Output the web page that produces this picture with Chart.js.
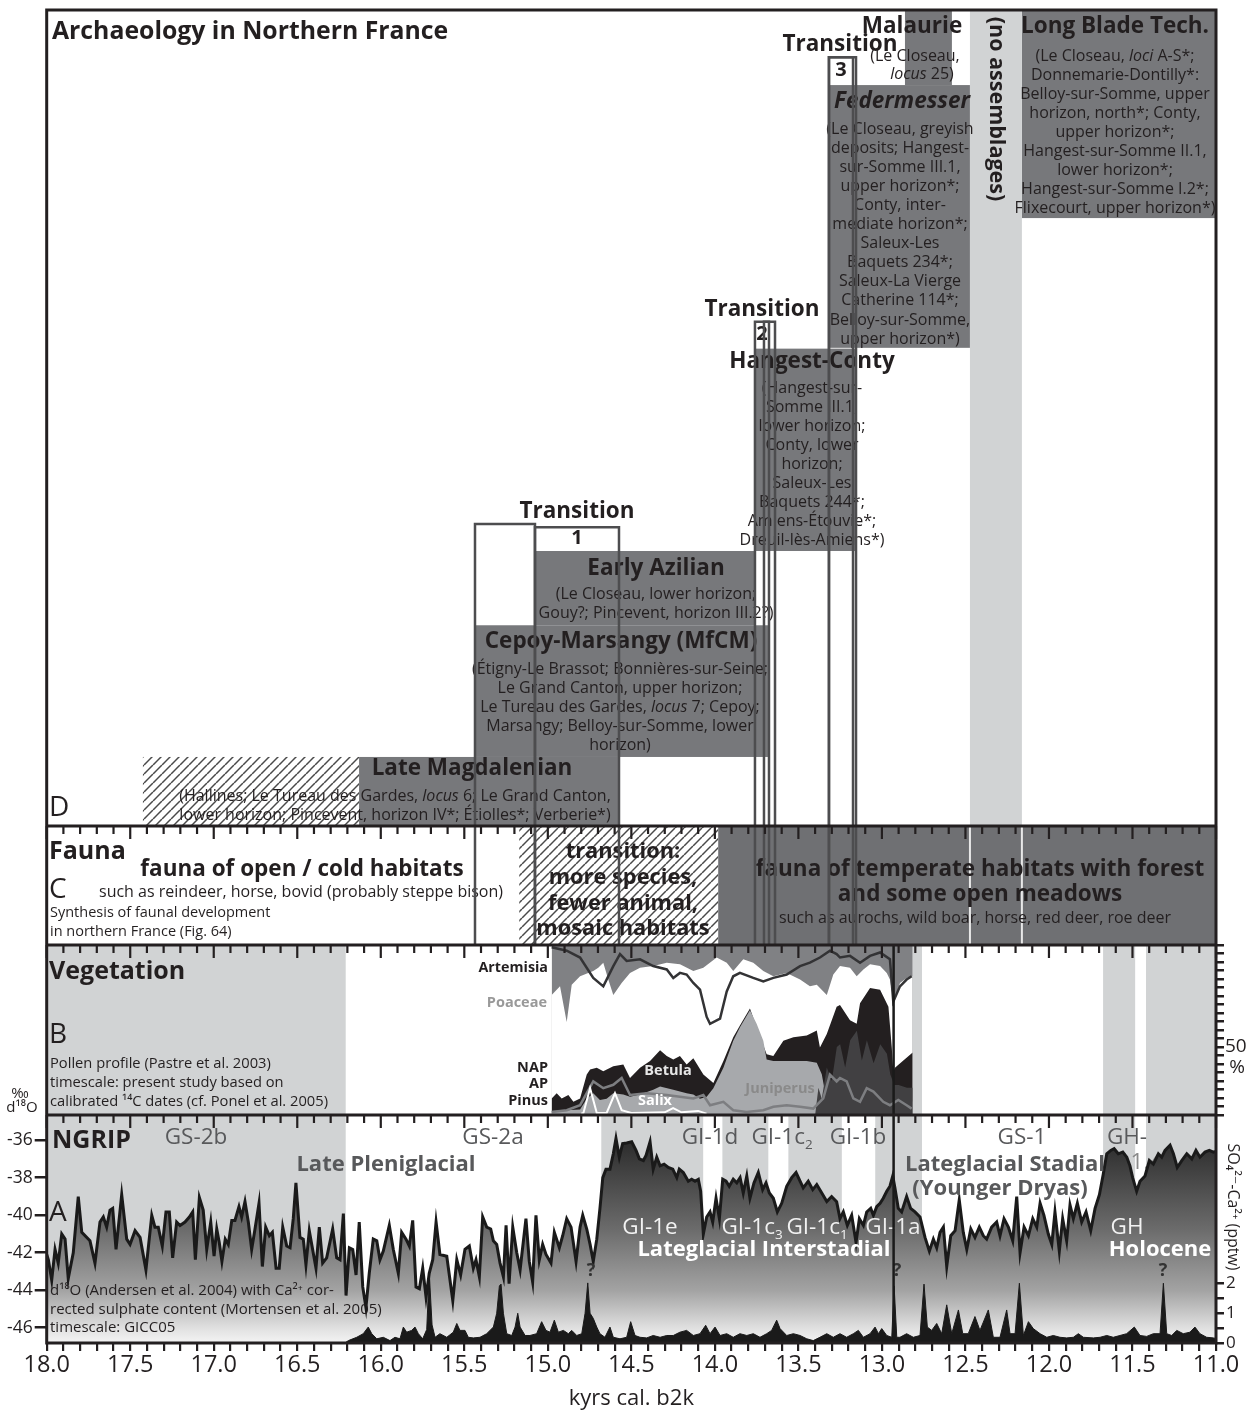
<!DOCTYPE html>
<html><head><meta charset="utf-8">
<script src="https://cdn.jsdelivr.net/npm/chart.js@4.4.1/dist/chart.umd.min.js"></script>
<style>html,body{margin:0;padding:0;background:#fff}canvas{display:block}</style>
</head><body>
<canvas id="c" width="1253" height="1412"></canvas>
<script>
// ---------------- DATA ----------------
const majorTickValues = [18,17.5,17,16.5,16,15.5,15,14.5,14,13.5,13,12.5,12,11.5,11];
const d18OTicks = [-36,-38,-40,-42,-44,-46];
const so4Ticks = [0,0.5,1,1.5,2];
const so4Labels = [0,1,2];
const pollenTickStep = 6.25;
const pollenLabel = 50;

// NGRIP d18O (permil) vs kyr b2k
const ngripD18O = [[18.000,-42.1],[17.990,-42.38],[17.970,-43.47],[17.950,-41.83],[17.931,-42.56],[17.910,-41.01],[17.890,-41.28],[17.871,-43.38],[17.841,-42.01],[17.811,-39.01],[17.790,-40.92],[17.741,-41.37],[17.711,-42.56],[17.681,-40.37],[17.661,-40.10],[17.641,-40.64],[17.621,-39.73],[17.605,-39.64],[17.585,-41.83],[17.551,-38.91],[17.521,-41.28],[17.501,-41.56],[17.471,-40.83],[17.441,-41.19],[17.406,-42.92],[17.371,-40.01],[17.352,-40.64],[17.332,-40.64],[17.308,-41.65],[17.286,-39.83],[17.266,-39.83],[17.246,-42.28],[17.222,-40.37],[17.202,-40.55],[17.172,-40.37],[17.146,-40.10],[17.126,-39.83],[17.110,-42.38],[17.086,-39.06],[17.063,-39.73],[17.042,-41.83],[17.018,-40.37],[16.998,-42.19],[16.982,-40.74],[16.967,-41.46],[16.951,-42.47],[16.931,-41.28],[16.913,-41.56],[16.892,-40.28],[16.873,-40.28],[16.849,-39.55],[16.833,-40.10],[16.813,-39.28],[16.793,-40.37],[16.773,-41.83],[16.753,-40.74],[16.729,-39.37],[16.709,-42.74],[16.689,-40.64],[16.667,-41.10],[16.649,-40.92],[16.627,-42.83],[16.608,-42.83],[16.587,-40.64],[16.563,-41.65],[16.543,-41.74],[16.524,-40.19],[16.508,-38.28],[16.484,-41.19],[16.464,-41.28],[16.448,-42.65],[16.428,-40.83],[16.408,-41.83],[16.388,-42.83],[16.368,-40.64],[16.348,-42.56],[16.324,-42.28],[16.288,-40.74],[16.264,-42.28],[16.244,-42.38],[16.224,-39.92],[16.208,-44.29],[16.188,-41.74],[16.168,-41.83],[16.148,-43.19],[16.129,-40.37],[16.108,-43.83],[16.089,-44.93],[16.069,-43.10],[16.045,-41.28],[16.024,-41.37],[16.005,-42.38],[15.985,-41.92],[15.949,-40.55],[15.925,-41.83],[15.895,-43.10],[15.875,-40.92],[15.849,-41.28],[15.829,-41.65],[15.809,-40.28],[15.789,-43.83],[15.769,-43.92],[15.749,-42.83],[15.729,-44.38],[15.710,-43.10],[15.689,-42.38],[15.669,-40.37],
[15.646,-42.10],[15.605,-42.19],[15.569,-44.56],[15.545,-42.38],[15.522,-43.19],[15.496,-41.83],[15.470,-41.65],[15.446,-42.83],[15.430,-42.38],[15.410,-43.29],[15.390,-40.10],[15.366,-40.64],[15.342,-40.74],[15.326,-41.37],[15.306,-41.56],[15.286,-42.56],[15.266,-43.29],[15.250,-40.55],[15.232,-43.65],[15.210,-40.64],[15.186,-42.01],[15.166,-42.92],[15.131,-40.19],[15.111,-42.47],[15.091,-43.56],[15.071,-40.01],[15.051,-42.38],[15.031,-41.56],[15.011,-42.10],[14.981,-42.56],[14.961,-40.92],[14.931,-41.74],[14.911,-41.10],[14.887,-40.19],[14.861,-40.64],[14.831,-42.47],[14.807,-40.64],[14.791,-40.01],[14.767,-40.74],[14.747,-41.56],[14.728,-42.47],[14.707,-41.28],[14.688,-39.64],[14.671,-38.00],[14.652,-37.55],[14.628,-37.55],[14.608,-36.73],[14.592,-35.91],[14.572,-36.91],[14.552,-36.18],[14.528,-36.15],[14.498,-36.09],[14.472,-36.55],[14.452,-37.00],[14.428,-37.09],[14.412,-36.82],[14.388,-36.09],[14.369,-37.55],[14.348,-36.91],[14.328,-37.37],[14.304,-37.28],[14.279,-37.46],[14.252,-37.55],[14.228,-38.00],[14.213,-37.55],[14.189,-37.73],[14.159,-38.19],[14.139,-38.09],[14.119,-38.19],[14.099,-38.09],[14.085,-38.73],[14.069,-41.01],[14.049,-40.10],[14.029,-39.83],[14.013,-40.37],[13.993,-39.10],[13.973,-40.19],[13.953,-38.09],[13.933,-38.19],[13.914,-38.46],[13.890,-38.09],[13.869,-38.28],[13.849,-38.00],[13.830,-38.82],[13.809,-37.91],[13.790,-39.10],[13.766,-38.28],[13.740,-37.73],[13.714,-38.64],[13.694,-38.28],[13.674,-38.82],[13.650,-39.10],[13.626,-39.83],[13.600,-39.37],[13.570,-38.46],[13.540,-38.00],[13.514,-37.73],[13.490,-38.19],[13.471,-38.55],[13.441,-38.19],[13.414,-38.64],[13.390,-38.37],[13.360,-38.82],[13.330,-39.28],[13.301,-39.01],[13.271,-39.28],
[13.251,-40.19],[13.231,-39.83],[13.207,-40.55],[13.181,-40.01],[13.155,-41.46],[13.135,-40.19],[13.111,-40.55],[13.091,-39.83],[13.067,-39.64],[13.051,-40.01],[13.031,-39.55],[13.011,-39.37],[12.992,-39.10],[12.971,-38.73],[12.952,-38.46],[12.935,-37.91],[12.922,-38.55],[12.902,-39.64],[12.882,-39.83],[12.852,-39.01],[12.828,-39.64],[12.802,-39.83],[12.772,-40.10],[12.742,-41.19],[12.716,-41.92],[12.692,-41.28],[12.672,-41.74],[12.652,-40.92],[12.632,-40.64],[12.612,-42.74],[12.588,-41.10],[12.562,-40.83],[12.537,-39.19],[12.513,-40.92],[12.492,-41.83],[12.468,-40.74],[12.443,-41.19],[12.417,-40.64],[12.393,-41.10],[12.373,-41.28],[12.343,-40.64],[12.313,-40.37],[12.293,-41.10],[12.269,-40.19],[12.243,-40.64],[12.217,-41.37],[12.193,-39.01],[12.173,-42.01],[12.149,-40.64],[12.123,-41.10],[12.097,-40.19],[12.073,-40.64],[12.053,-39.37],[12.030,-40.01],[12.004,-41.01],[11.983,-41.56],[11.964,-39.83],[11.938,-41.92],[11.918,-40.19],[11.894,-41.37],[11.874,-39.46],[11.854,-40.19],[11.830,-39.37],[11.804,-40.37],[11.778,-39.83],[11.750,-40.83],[11.724,-39.64],[11.698,-38.91],[11.675,-37.82],[11.654,-36.73],[11.630,-36.55],[11.610,-36.46],[11.585,-36.73],[11.558,-36.64],[11.534,-36.91],[11.515,-37.37],[11.499,-38.00],[11.475,-38.73],[11.455,-38.19],[11.425,-37.91],[11.399,-37.09],[11.375,-37.28],[11.345,-36.73],[11.325,-36.91],[11.305,-36.55],[11.275,-36.27],[11.255,-36.73],[11.232,-37.46],[11.205,-37.09],[11.175,-36.73],[11.145,-37.00],[11.120,-36.55],[11.096,-36.91],[11.066,-36.64],[11.040,-36.55],[11.016,-36.64],[11.000,-36.6]];

// Ca-corrected sulphate (ppbw)
const ngripSO4 = [[16.215,0],[16.194,0.08],[16.144,0.19],[16.105,0.31],[16.075,0.53],[16.054,0.31],[16.024,0.14],[15.985,0.19],[15.945,0.08],[15.915,0.19],[15.885,0.14],[15.865,0.53],[15.845,0.36],[15.815,0.42],[15.795,0.53],[15.775,0.31],[15.749,0.14],[15.725,0.45],[15.710,2.35],[15.693,0.6],[15.675,0.19],[15.646,0.31],[15.605,0.19],[15.566,0.36],[15.545,0.65],[15.526,0.42],[15.496,0.42],[15.476,0.19],[15.446,0.17],[15.406,0.19],[15.366,0.31],[15.326,0.53],[15.306,0.99],[15.290,1.90],[15.280,1.96],[15.266,0.99],[15.246,0.31],[15.216,0.25],[15.196,0.53],[15.180,0.99],[15.166,0.53],[15.136,0.25],[15.107,0.25],[15.067,0.31],[15.037,0.71],[15.011,0.42],[14.987,0.36],[14.961,0.76],[14.937,0.36],[14.907,0.42],[14.877,0.31],[14.857,0.42],[14.827,0.25],[14.797,0.31],[14.777,0.99],[14.761,2.0],[14.747,0.99],[14.728,0.82],[14.707,0.53],[14.688,0.31],[14.658,0.19],[14.628,0.53],[14.608,0.19],[14.568,0.14],[14.528,0.19],[14.504,0.71],[14.478,0.25],[14.448,0.19],[14.408,0.17],[14.369,0.25],[14.328,0.19],[14.288,0.25],[14.249,0.25],[14.209,0.36],[14.169,0.42],[14.129,0.25],[14.089,0.31],[14.055,0.59],[14.029,0.31],[13.999,0.53],[13.969,0.25],[13.929,0.31],[13.890,0.19],[13.850,0.31],[13.809,0.25],[13.770,0.31],[13.730,0.19],[13.690,0.31],[13.660,0.42],[13.630,0.76],[13.610,0.48],[13.570,0.25],[13.530,0.31],[13.490,0.25],[13.450,0.14],[13.411,0.08],[13.371,0.19],[13.330,0.31],[13.291,0.19],[13.251,0.31],[13.211,0.19],[13.171,0.31],[13.141,0.42],[13.111,0.19],[13.071,0.31],[13.041,0.53],[13.021,0.31],[13.001,0.48],[12.971,0.25],[12.941,0.19],[12.927,1.90],[12.911,0.19],[12.892,0.19],[12.852,0.31],[12.812,0.19],[12.772,0.25],[12.748,1.96],[12.728,0.53],[12.702,0.42],[12.672,0.65],[12.642,0.31],[12.612,1.27],[12.582,0.31],[12.542,1.10],[12.516,0.31],[12.483,0.31],[12.443,0.88],[12.413,0.42],[12.363,1.10],[12.333,0.19],[12.293,0.19],[12.253,1.10],[12.233,0.31],[12.203,0.31],[12.177,1.99],[12.153,0.25],[12.123,0.71],[12.094,0.48],[12.053,0.31],[12.013,0.19],[11.974,0.25],[11.934,0.19],[11.894,0.17],[11.854,0.19],[11.824,0.31],[11.794,0.19],[11.734,0.17],[11.694,0.19],[11.654,0.25],[11.615,0.19],[11.575,0.25],[11.535,0.31],[11.489,0.53],[11.455,0.25],[11.415,0.22],[11.375,0.31],[11.335,0.31],[11.315,1.99],[11.295,0.31],[11.265,0.25],[11.235,0.42],[11.196,0.31],[11.156,0.36],[11.126,0.53],[11.096,0.31],[11.056,0.19],[11.016,0.17],[11.0,0.15]];

// Pollen profile, cumulative boundaries (% scale of diagram)
const pollenTop = [[14.977,125],[12.816,125]];
const artemisiaBase = [[14.977,88.3],[14.927,94.6],[14.887,68.4],[14.857,95.8],[14.807,102.0],[14.758,104.5],[14.728,105.8],[14.698,108.3],[14.668,112.0],[14.638,99.6],[14.608,88.3],[14.558,97.1],[14.508,104.5],[14.448,108.3],[14.369,109.5],[14.288,112.0],[14.209,110.8],[14.129,105.8],[14.069,108.3],[13.989,115.8],[13.929,112.0],[13.890,105.8],[13.830,114.5],[13.770,112.0],[13.710,105.8],[13.650,102.0],[13.570,104.5],[13.490,99.6],[13.431,94.6],[13.390,95.8],[13.330,88.3],[13.291,103.3],[13.251,109.5],[13.191,108.3],[13.151,102.0],[13.111,107.0],[13.071,110.8],[13.011,109.5],[12.971,104.5],[12.952,99.6],[12.935,87.1],[12.922,84.6],[12.892,97.1],[12.852,100.8],[12.816,102.0]];
const betulaTop = [[14.977,12.2],[14.947,16.0],[14.917,12.2],[14.877,14.7],[14.847,9.7],[14.807,12.2],[14.767,29.7],[14.747,33.4],[14.707,34.7],[14.668,32.2],[14.608,35.9],[14.548,37.2],[14.508,27.2],[14.448,34.7],[14.388,39.7],[14.328,47.7],[14.288,43.4],[14.249,40.9],[14.209,43.4],[14.169,37.2],[14.129,41.7],[14.069,29.7],[14.009,23.5],[13.949,39.7],[13.890,57.1],[13.850,65.9],[13.790,78.3],[13.750,64.6],[13.690,44.7],[13.650,43.4],[13.590,54.6],[13.530,57.1],[13.450,58.4],[13.390,62.1],[13.371,49.7],[13.330,59.6],[13.271,79.6],[13.251,80.8],[13.191,69.6],[13.151,67.1],[13.131,82.1],[13.071,93.3],[13.011,92.1],[12.961,79.6],[12.941,49.7],[12.932,32.2],[12.922,34.7],[12.816,45.9]];
const juniperusTop = [[14.977,3],[14.807,4],[14.767,12],[14.728,16],[14.688,11],[14.648,12],[14.608,16],[14.548,15],[14.508,13.5],[14.448,15],[14.369,18.5],[14.328,21],[14.249,18.5],[14.169,16],[14.129,15],[14.089,12],[14.049,13.5],[14.009,19.7],[13.949,34.7],[13.890,54.6],[13.850,64.6],[13.790,77.1],[13.750,67.1],[13.710,54.6],[13.690,40.9],[13.650,39.7],[13.530,39.7],[13.450,39.7],[13.390,38.4],[13.36,30],[13.33,10],[12.816,10]];
const pinusTop = [[13.40,0],[13.38,20],[13.36,12],[13.33,35],[13.30,25],[13.27,50],[13.25,52],[13.22,35],[13.19,55],[13.15,62],[13.12,40],[13.09,55],[13.05,38],[13.01,52],[12.97,45],[12.95,30],[12.935,25],[12.93,22],[12.90,22],[12.85,20],[12.816,20]];
const napCurve = [[14.977,123.3],[14.887,120.8],[14.807,115.8],[14.728,100.8],[14.668,94.6],[14.608,109.5],[14.568,118.3],[14.528,113.3],[14.448,114.5],[14.369,109.5],[14.288,107.0],[14.249,100.8],[14.209,104.5],[14.169,103.3],[14.129,97.1],[14.089,92.1],[14.049,72.1],[14.029,67.1],[13.969,70.9],[13.929,90.8],[13.890,102.0],[13.850,104.5],[13.770,100.8],[13.710,98.3],[13.650,100.8],[13.570,103.3],[13.490,109.5],[13.431,112.0],[13.371,115.8],[13.311,120.8],[13.271,118.3],[13.251,115.8],[13.191,117.0],[13.131,112.0],[13.071,117.0],[13.011,119.5],[12.952,114.5],[12.932,83.3],[12.892,94.6],[12.852,99.6],[12.822,102.0]];
const apCurve = [[14.977,2.2],[14.887,3.5],[14.807,7.2],[14.728,24.7],[14.668,19.7],[14.608,22.2],[14.558,27.2],[14.508,14.7],[14.408,16.0],[14.288,14.7],[14.209,13.5],[14.129,12.2],[14.069,14.7],[14.029,7.2],[13.949,9.7],[13.890,3.5],[13.810,2.2],[13.710,3.5],[13.650,6.0],[13.570,7.2],[13.490,6.0],[13.411,4.7],[13.351,12.2],[13.311,29.7],[13.271,24.7],[13.251,27.2],[13.211,24.7],[13.171,12.2],[13.131,9.7],[13.091,19.7],[13.051,17.2],[12.992,9.7],[12.952,7.2],[12.902,11.0],[12.852,7.2],[12.822,4.7]];
const salixCurve = [[14.80,1],[14.787,1.5],[14.747,19.7],[14.707,1.5],[14.648,1.5],[14.598,16],[14.558,3.5],[14.50,1.5],[14.30,2],[14.25,5],[14.20,2],[14.10,3],[14.05,1]];

// climate event shading (kyr b2k)
const bandsNGRIP = [[18.0,16.21],[14.68,14.07],[13.955,13.68],[13.56,13.24],[13.04,12.76],[11.676,11.484],[11.419,11.0]];
const bandsVeg = [[18.0,16.21],[13.04,12.76],[11.676,11.484],[11.419,11.0]];
const gs1Onset = 12.93;
const noAssemblages = [12.473, 12.162];

// archaeology units: [from, to, topLevel, bottomLevel] (level = % of panel height)
const archUnits = {
  lateMagdalenian: [16.130, 14.580, 8.46, 0],
  cepoyMarsangy:   [15.436, 13.682, 24.6, 8.46],
  earlyAzilian:    [15.077, 13.760, 33.7, 24.6],
  hangestConty:    [13.760, 13.161, 58.5, 33.7],
  federmesser:     [13.317, 12.473, 90.8, 58.6],
  malaurie:        [12.862, 12.581, 100, 90.8],
  longBlade:       [12.162, 11.0, 100, 74.5]
};
const magdalenianHatch = [17.424, 16.130, 8.46, 0];
const transitions = [[15.436,15.077,37.0],[15.077,14.574,36.6],[13.760,13.676,61.8],[13.706,13.640,61.8],[13.317,13.155,94.2],[13.317,13.173,94.2]];
const faunaTransition = [15.171, 13.980];
const faunaTemperate = [13.980, 11.0];

// ---------------- STYLE ----------------
const F = '"Open Sans", "DejaVu Sans", sans-serif';
const INK = '#231f20', LIGHT = '#d1d3d4', BOX = '#77787b', LINEC = '#4d4d4f';
function fnt(size, bold, italic){ return (italic?'italic ':'') + (bold?'bold ':'') + size + 'px ' + F; }
function T(ctx, s, x, y, size, o = {}) {
  ctx.save(); ctx.font = fnt(size, o.bold, o.italic); ctx.fillStyle = o.color || INK;
  ctx.textAlign = o.align || 'center'; ctx.textBaseline = 'middle'; ctx.fillText(s, x, y); ctx.restore();
}
function R(ctx, segs, cx, y, size, color) {
  ctx.save(); ctx.textBaseline = 'middle'; ctx.textAlign = 'left'; ctx.fillStyle = color || INK;
  const ws = segs.map(([s, it]) => { ctx.font = fnt(size, false, it); return ctx.measureText(s).width; });
  let x = cx - ws.reduce((a, b) => a + b, 0) / 2;
  segs.forEach(([s, it], i) => { ctx.font = fnt(size, false, it); ctx.fillText(s, x, y); x += ws[i]; });
  ctx.restore();
}
function sub(ctx, base, s, x, y, size, color, bold) { // text with subscript, centered
  ctx.save(); ctx.textBaseline = 'middle'; ctx.textAlign = 'left'; ctx.fillStyle = color;
  ctx.font = fnt(size, bold); const w1 = ctx.measureText(base).width;
  ctx.font = fnt(size * 0.6, bold); const w2 = ctx.measureText(s).width;
  const x0 = x - (w1 + w2) / 2;
  ctx.font = fnt(size, bold); ctx.fillText(base, x0, y);
  ctx.font = fnt(size * 0.6, bold); ctx.fillText(s, x0 + w1, y + size * 0.3);
  ctx.restore();
}
let hatchPat = null;
function hatch(ctx) {
  if (hatchPat) return hatchPat;
  const c = document.createElement('canvas'); c.width = 9; c.height = 9;
  const g = c.getContext('2d'); g.fillStyle = '#fff'; g.fillRect(0, 0, 9, 9);
  g.strokeStyle = '#4a4a4a'; g.lineWidth = 1.5;
  [[-9, 9], [0, 9], [9, 9]].forEach(([ox]) => { g.beginPath(); g.moveTo(ox, 9); g.lineTo(ox + 9, 0); g.stroke(); });
  hatchPat = ctx.createPattern(c, 'repeat'); return hatchPat;
}
const isMajor = v => majorTickValues.some(m => Math.abs(m - v) < 1e-6);

// ---------------- PLUGINS ----------------
const backPlugin = {
  id: 'back',
  beforeDatasetsDraw(chart) {
    const { ctx, scales: { x, yA, yB, yC, yD } } = chart;
    const X = v => x.getPixelForValue(v);
    const rect = (a, b, top, bot, fill) => { ctx.fillStyle = fill; ctx.fillRect(X(a), top, X(b) - X(a), bot - top); };
    ctx.save();
    bandsNGRIP.forEach(([a, b]) => rect(a, b, yA.top, yA.bottom, LIGHT));
    bandsVeg.forEach(([a, b]) => rect(a, b, yB.top, yB.bottom, LIGHT));
    const Y = v => yD.getPixelForValue(v);
    rect(magdalenianHatch[0], magdalenianHatch[1], Y(magdalenianHatch[2]), Y(magdalenianHatch[3]), hatch(ctx));
    Object.values(archUnits).forEach(([a, b, t, bt]) => rect(a, b, Y(t), Y(bt), BOX));
    rect(noAssemblages[0], noAssemblages[1], yD.top, yD.bottom, LIGHT);
    rect(faunaTransition[0], faunaTransition[1], yC.top, yC.bottom, hatch(ctx));
    rect(faunaTemperate[0], faunaTemperate[1], yC.top, yC.bottom, '#6f7073');
    ctx.strokeStyle = '#e8e8e8'; ctx.lineWidth = 2;
    noAssemblages.forEach(v => { ctx.beginPath(); ctx.moveTo(X(v), yC.top); ctx.lineTo(X(v), yC.bottom); ctx.stroke(); });
    T(ctx, '11.4', 1140, 1163, 22.5, { color: '#8a8a8a' });
    ctx.restore();
  }
};

const frontPlugin = {
  id: 'front',
  afterDatasetsDraw(chart) {
    const { ctx, scales: { x, yA, yB, yC, yD } } = chart;
    const X = v => x.getPixelForValue(v);
    const Y = v => yD.getPixelForValue(v);
    ctx.save();
    const s = 16, B = 22.5, L = 19.1;
    // ---- D texts
    T(ctx, 'Archaeology in Northern France', 52, 32, 24.8, { bold: true, align: 'left' });
    T(ctx, 'D', 49, 808, 28, { align: 'left' });
    T(ctx, 'Transition', 577, 512, B, { bold: true }); T(ctx, '1', 577, 538, 20, { bold: true });
    T(ctx, 'Early Azilian', 656, 569, B, { bold: true });
    T(ctx, '(Le Closeau, lower horizon;', 656, 594, s);
    T(ctx, 'Gouy?; Pincevent, horizon III.2?)', 656, 613, s);
    T(ctx, 'Cepoy-Marsangy (MfCM)', 621, 642, B, { bold: true });
    T(ctx, '(Étigny-Le Brassot; Bonnières-sur-Seine;', 620, 669, s);
    T(ctx, 'Le Grand Canton, upper horizon;', 620, 688, s);
    R(ctx, [['Le Tureau des Gardes, ', false], ['locus', true], [' 7; Cepoy;', false]], 620, 707, s);
    T(ctx, 'Marsangy; Belloy-sur-Somme, lower', 620, 726, s);
    T(ctx, 'horizon)', 620, 745, s);
    T(ctx, 'Late Magdalenian', 472, 769, B, { bold: true });
    R(ctx, [['(Hallines; Le Tureau des Gardes, ', false], ['locus', true], [' 6; Le Grand Canton,', false]], 395, 796, s);
    T(ctx, 'lower horizon; Pincevent, horizon IV*; Étiolles*; Verberie*)', 395, 815, s);
    T(ctx, 'Transition', 762, 310, B, { bold: true }); T(ctx, '2', 762, 334, 20, { bold: true });
    T(ctx, 'Hangest-Conty', 812, 362, B, { bold: true });
    ['(Hangest-sur-', 'Somme III.1,', 'lower horizon;', 'Conty, lower', 'horizon;', 'Saleux-Les', 'Baquets 244*;', 'Amiens-Étouvie*;', 'Dreuil-lès-Amiens*)']
      .forEach((t, i) => T(ctx, t, 812, 388 + i * L, s));
    T(ctx, 'Transition', 840, 45, B, { bold: true }); T(ctx, '3', 841, 70, 20, { bold: true });
    T(ctx, 'Malaurie', 912, 27, B, { bold: true });
    T(ctx, '(Le Closeau,', 915, 56, s);
    R(ctx, [['locus', true], [' 25)', false]], 922, 74, s);
    T(ctx, 'Federmesser', 902, 102, B, { bold: true, italic: true });
    ['(Le Closeau, greyish', 'deposits; Hangest-', 'sur-Somme III.1,', 'upper horizon*;', 'Conty, inter-', 'mediate horizon*;', 'Saleux-Les', 'Baquets 234*;', 'Saleux-La Vierge', 'Catherine 114*;', 'Belloy-sur-Somme,', 'upper horizon*)']
      .forEach((t, i) => T(ctx, t, 900, 129 + i * L, s));
    ctx.save(); ctx.translate(996, 109); ctx.rotate(Math.PI / 2); T(ctx, '(no assemblages)', 0, 0, 21.5, { bold: true }); ctx.restore();
    T(ctx, 'Long Blade Tech.', 1115, 27, B, { bold: true });
    R(ctx, [['(Le Closeau, ', false], ['loci', true], [' A-S*;', false]], 1115, 56, s);
    ['Donnemarie-Dontilly*:', 'Belloy-sur-Somme, upper', 'horizon, north*; Conty,', 'upper horizon*;', 'Hangest-sur-Somme II.1,', 'lower horizon*;', 'Hangest-sur-Somme I.2*;', 'Flixecourt, upper horizon*)']
      .forEach((t, i) => T(ctx, t, 1115, 75 + i * L, s));
    // ---- C texts
    T(ctx, 'Fauna', 49, 852, 25, { bold: true, align: 'left' });
    T(ctx, 'C', 49, 890, 28, { align: 'left' });
    T(ctx, 'fauna of open / cold habitats', 302, 870, B, { bold: true });
    T(ctx, 'such as reindeer, horse, bovid (probably steppe bison)', 301, 892, s);
    T(ctx, 'Synthesis of faunal development', 50, 913, 14.5, { align: 'left' });
    T(ctx, 'in northern France (Fig. 64)', 50, 932, 14.5, { align: 'left' });
    ['transition:', 'more species,', 'fewer animal,', 'mosaic habitats'].forEach((t, i) => T(ctx, t, 623, 852 + i * 25.7, 21.8, { bold: true }));
    T(ctx, 'fauna of temperate habitats with forest', 980, 870, B, { bold: true });
    T(ctx, 'and some open meadows', 980, 895, B, { bold: true });
    T(ctx, 'such as aurochs, wild boar, horse, red deer, roe deer', 975, 918, s);
    // ---- B texts
    T(ctx, 'Vegetation', 49, 972, 25, { bold: true, align: 'left' });
    T(ctx, 'B', 49, 1035, 28, { align: 'left' });
    T(ctx, 'Pollen profile (Pastre et al. 2003)', 50, 1064, 14.7, { align: 'left' });
    T(ctx, 'timescale: present study based on', 50, 1083, 14.7, { align: 'left' });
    T(ctx, 'calibrated ¹⁴C dates (cf. Ponel et al. 2005)', 50, 1102, 14.7, { align: 'left' });
    T(ctx, 'Artemisia', 548, 968, 14.3, { bold: true, align: 'right' });
    T(ctx, 'Poaceae', 547, 1003, 14.5, { bold: true, align: 'right', color: '#999' });
    T(ctx, 'NAP', 548, 1068, 14.5, { bold: true, align: 'right' });
    T(ctx, 'AP', 548, 1084, 14.5, { bold: true, align: 'right' });
    T(ctx, 'Pinus', 548, 1101, 14.5, { bold: true, align: 'right' });
    T(ctx, 'Betula', 668, 1071, 14.5, { bold: true, color: '#e6e6e6' });
    T(ctx, 'Salix', 655, 1101, 14.5, { bold: true, color: '#fff' });
    T(ctx, 'Juniperus', 780, 1089, 14.5, { bold: true, color: '#8a8a8a' });
    // ---- A texts
    T(ctx, 'NGRIP', 52, 1141, 25, { bold: true, align: 'left' });
    T(ctx, 'A', 49, 1213, 28, { align: 'left' });
    const G5 = '#58595b', R5 = 22.5;
    T(ctx, 'GS-2b', 196, 1138, R5, { color: G5 });
    T(ctx, 'GS-2a', 493, 1138, R5, { color: G5 });
    T(ctx, 'Late Pleniglacial', 386, 1165, 22, { bold: true, color: G5 });
    T(ctx, 'GI-1d', 710, 1138, R5, { color: G5 });
    sub(ctx, 'GI-1c', '2', 782, 1138, R5, G5);
    T(ctx, 'GI-1b', 858, 1138, R5, { color: G5 });
    T(ctx, 'GS-1', 1022, 1138, R5, { color: G5 });
    T(ctx, 'GH-', 1127, 1138, R5, { color: G5 });
    T(ctx, 'Lateglacial Stadial', 1005, 1165, 22, { bold: true, color: G5 });
    T(ctx, '(Younger Dryas)', 1000, 1189, 22, { bold: true, color: G5 });
    T(ctx, 'GI-1e', 650, 1228, R5, { color: '#f2f2f2' });
    sub(ctx, 'GI-1c', '3', 752, 1228, R5, '#f2f2f2');
    sub(ctx, 'GI-1c', '1', 817, 1228, R5, '#f2f2f2');
    T(ctx, 'GI-1a', 893, 1228, R5, { color: '#eeeeee' });
    T(ctx, 'GH', 1127, 1228, R5, { color: '#f2f2f2' });
    T(ctx, 'Lateglacial Interstadial', 764, 1250, 22, { bold: true, color: '#fff' });
    T(ctx, 'Holocene', 1160, 1250, 22, { bold: true, color: '#fff' });
    [591, 897, 1163].forEach(px => T(ctx, '?', px, 1271, 18, { bold: true, color: '#333' }));
    T(ctx, 'd¹⁸O (Andersen et al. 2004) with Ca²⁺ cor-', 50, 1291, 15, { align: 'left' });
    T(ctx, 'rected sulphate content (Mortensen et al. 2005)', 50, 1310, 15, { align: 'left' });
    T(ctx, 'timescale: GICC05', 50, 1328, 15, { align: 'left' });
    // axis side labels
    T(ctx, '‰', 20, 1094, 15, { color: INK });
    T(ctx, 'd¹⁸O', 22, 1108, 15, { color: INK });
    T(ctx, '%', 1237, 1068, 19, { color: INK });
    ctx.save(); ctx.translate(1233, 1207); ctx.rotate(Math.PI / 2); T(ctx, 'SO₄²⁻-Ca²⁺ (pptw)', 0, 0, 16); ctx.restore();

    // ---- transition outlines (D top down to bottom of C)
    ctx.strokeStyle = LINEC; ctx.lineWidth = 2.5;
    transitions.forEach(([a, b, top]) => {
      ctx.beginPath();
      ctx.moveTo(X(a), yC.bottom); ctx.lineTo(X(a), Y(top)); ctx.lineTo(X(b), Y(top)); ctx.lineTo(X(b), yC.bottom);
      ctx.stroke();
    });
    ctx.strokeStyle = '#1a1a1a'; ctx.lineWidth = 2.5;
    ctx.beginPath(); ctx.moveTo(X(gs1Onset), yB.top); ctx.lineTo(X(gs1Onset), yA.bottom); ctx.stroke();
    // ---- frames
    ctx.strokeStyle = INK; ctx.lineWidth = 3;
    ctx.strokeRect(X(18), yD.top, X(11) - X(18), yA.bottom - yD.top);
    [yC.top, yB.top, yA.top].forEach(yy => { ctx.beginPath(); ctx.moveTo(X(18), yy); ctx.lineTo(X(11), yy); ctx.stroke(); });
    ctx.lineWidth = 2.2;
    [yC.top, yB.top, yA.top].forEach(yy => {
      x.ticks.forEach(tk => {
        const px = x.getPixelForValue(tk.value);
        ctx.beginPath(); ctx.moveTo(px, yy); ctx.lineTo(px, yy + (isMajor(tk.value) ? 13 : 8)); ctx.stroke();
      });
    });
    ctx.restore();
  }
};

// ---------------- CHART ----------------
const pts = a => a.map(([x, y]) => ({ x, y }));
const hidden = (pos, stack, w, weight, min, max) => ({ type: 'linear', display: false, position: pos, stack, stackWeight: w, weight, min, max,
  afterFit: s => { s.width = pos === 'left' ? 46.7 : 37; s.paddingTop = 0; s.paddingBottom = 0; } });
const gridTick = (len) => ({ drawOnChartArea: false, drawTicks: true, tickLength: len, color: INK, lineWidth: 2.5 });

new Chart(document.getElementById('c'), {
  type: 'line',
  data: {
    datasets: [
      { label: 'Salix', data: pts(salixCurve), yAxisID: 'yB2', borderColor: '#ffffff', borderWidth: 2, fill: false, order: 1 },
      { label: 'AP', data: pts(apCurve), yAxisID: 'yB2', borderColor: '#7d7e81', borderWidth: 2.5, fill: false, order: 2 },
      { label: 'NAP', data: pts(napCurve), yAxisID: 'yB2', borderColor: '#333335', borderWidth: 2.5, fill: false, order: 3 },
      { label: 'Pinus', data: pts(pinusTop), yAxisID: 'yB2', borderWidth: 0, fill: 'start', backgroundColor: '#414042', order: 4 },
      { label: 'Juniperus', data: pts(juniperusTop), yAxisID: 'yB2', borderWidth: 0, fill: 'start', backgroundColor: '#a7a9ac', order: 5 },
      { label: 'Betula', data: pts(betulaTop), yAxisID: 'yB2', borderWidth: 0, fill: 'start', backgroundColor: '#231f20', order: 6 },
      { label: 'Poaceae', data: pts(artemisiaBase), yAxisID: 'yB2', borderWidth: 0, fill: 'start', backgroundColor: '#ffffff', order: 7 },
      { label: 'Artemisia', data: pts(pollenTop), yAxisID: 'yB2', borderWidth: 0, fill: 'start', backgroundColor: '#808184', order: 8 },
      { label: 'SO4', data: pts(ngripSO4), yAxisID: 'yS', borderColor: '#1a1a1a', borderWidth: 1, fill: 'origin', backgroundColor: '#1a1a1a', order: 9 },
      { label: 'd18O', data: pts(ngripD18O), yAxisID: 'yA', borderColor: '#1a1a1a', borderWidth: 3, fill: 'start', order: 10,
        backgroundColor: (c) => {
          const ch = c.chart; const s = ch.scales.yA;
          if (!s || !ch.chartArea) return '#777';
          const g = ch.ctx.createLinearGradient(0, s.top, 0, s.bottom);
          g.addColorStop(0, '#1c1c1c'); g.addColorStop(0.11, '#2b2b2b'); g.addColorStop(0.5, '#6b6b6b');
          g.addColorStop(0.77, '#a3a3a3'); g.addColorStop(0.94, '#e2e2e2'); g.addColorStop(1, '#f4f4f4');
          return g;
        } }
    ]
  },
  options: {
    responsive: false, animation: false, devicePixelRatio: 1,
    layout: { padding: { top: 10, left: 0, right: 0, bottom: 0 } },
    plugins: { legend: { display: false }, tooltip: { enabled: false } },
    elements: { point: { radius: 0 }, line: { tension: 0 } },
    scales: {
      x: {
        type: 'linear', min: 11, max: 18, reverse: true, position: 'bottom',
        afterBuildTicks: s => { s.ticks = Array.from({ length: 71 }, (_, i) => ({ value: +(11 + i * 0.1).toFixed(1) })); },
        afterFit: s => { s.height = 69; },
        ticks: { autoSkip: false, maxRotation: 0, padding: 0, color: INK, font: { family: F, size: 23.5 },
          callback: v => isMajor(v) ? Number(v).toFixed(1) : '' },
        grid: { drawOnChartArea: false, drawTicks: true, tickLength: 8, color: INK, lineWidth: 2.2 },
        border: { display: false },
        title: { display: true, text: 'kyrs cal. b2k', color: INK, font: { family: F, size: 22 }, padding: { top: 0, bottom: 0 } }
      },
      yD: hidden('left', 'L', 816, 4, 0, 100),
      yC: hidden('left', 'L', 119, 3, 0, 1),
      yB: hidden('left', 'L', 170, 2, 0, 1),
      yA: {
        type: 'linear', position: 'left', stack: 'L', stackWeight: 228, weight: 1, min: -46.82, max: -34.66,
        afterBuildTicks: s => { s.ticks = d18OTicks.map(v => ({ value: v })); },
        afterFit: s => { s.width = 46.7; s.paddingTop = 0; s.paddingBottom = 0; },
        ticks: { autoSkip: false, padding: 2, color: INK, font: { family: F, size: 17.5 }, callback: v => String(v) },
        grid: gridTick(12), border: { display: false }
      },
      yD2: hidden('right', 'R', 816, 1, 0, 1),
      yC2: hidden('right', 'R', 119, 2, 0, 1),
      yB2: {
        type: 'linear', position: 'right', stack: 'R', stackWeight: 170, weight: 3, min: 0, max: 125,
        afterBuildTicks: s => { s.ticks = Array.from({ length: 21 }, (_, i) => ({ value: i * pollenTickStep })); },
        afterFit: s => { s.width = 37; s.paddingTop = 0; s.paddingBottom = 0; },
        ticks: { autoSkip: false, padding: 1, color: INK, font: { family: F, size: 19 }, callback: v => v === pollenLabel ? String(v) : '' },
        grid: gridTick(8), border: { display: false }
      },
      yS: {
        type: 'linear', position: 'right', stack: 'R', stackWeight: 228, weight: 4, min: 0, max: 7.59,
        afterBuildTicks: s => { s.ticks = so4Ticks.map(v => ({ value: v })); },
        afterFit: s => { s.width = 37; s.paddingTop = 0; s.paddingBottom = 0; },
        ticks: { autoSkip: false, padding: 2, color: INK, font: { family: F, size: 17 }, callback: v => so4Labels.includes(v) ? String(v) : '' },
        grid: gridTick(8), border: { display: false }
      }
    }
  },
  plugins: [backPlugin, frontPlugin]
});
</script>
</body></html>
